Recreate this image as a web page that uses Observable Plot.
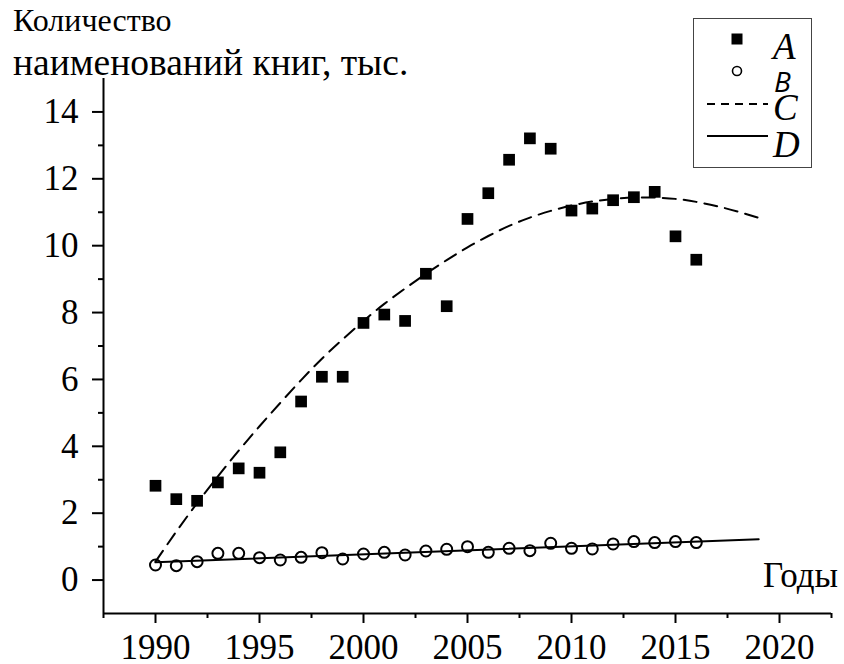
<!DOCTYPE html>
<html>
<head>
<meta charset="utf-8">
<script src="https://cdn.jsdelivr.net/npm/d3@7"></script>
<script src="https://cdn.jsdelivr.net/npm/@observablehq/plot@0.6"></script>
<style>
  html, body { margin: 0; padding: 0; background: #fff; font-family: 'Liberation Serif', serif; }
  #wrap { position: relative; width: 844px; height: 664px; overflow: hidden; }
  #wrap > svg.chart { position: absolute; left: 0; top: 0; }
  .ttl { position: absolute; left: 13px; line-height: 1; white-space: nowrap; color: #000; }
  .xlab { position: absolute; right: 6px; top: 558px; font-size: 35px; line-height: 1; color: #000; }
  #legend { position: absolute; left: 693px; top: 18px; }
</style>
</head>
<body>
<div id="wrap">
  <div class="ttl" style="top:4px; font-size:32px; font-family: 'Liberation Serif', serif">Количество</div>
  <div class="ttl" style="top:44px; font-size:37.5px; font-family: 'Liberation Serif', serif">наименований книг, тыс.</div>
  <div class="xlab" style="font-family: 'Liberation Serif', serif">Годы</div>
</div>
<script>
// Series A: number of book titles (squares)
const yearsA = [1990,1991,1992,1993,1994,1995,1996,1997,1998,1999,2000,2001,2002,2003,2004,2005,2006,2007,2008,2009,2010,2011,2012,2013,2014,2015,2016];
const valuesA = [2.82,2.42,2.37,2.92,3.34,3.21,3.82,5.34,6.08,6.08,7.69,7.94,7.75,9.16,8.19,10.8,11.57,12.57,13.21,12.9,11.05,11.11,11.36,11.45,11.61,10.28,9.58];
// Series B: circles
const yearsB = yearsA;
const valuesB = [0.45,0.43,0.55,0.80,0.80,0.67,0.60,0.68,0.82,0.63,0.78,0.83,0.75,0.87,0.92,1.00,0.83,0.95,0.88,1.10,0.95,0.93,1.08,1.15,1.12,1.15,1.12];
// Trend C (dashed curve)
const yearsC = [1990,1991,1992,1993,1994,1995,1996,1997,1998,1999,2000,2001,2002,2003,2004,2005,2006,2007,2008,2009,2010,2011,2012,2013,2014,2015,2016,2017,2018,2019];
const valuesC = [0.55,1.45,2.30,3.10,3.87,4.60,5.30,5.98,6.62,7.20,7.75,8.26,8.72,9.16,9.57,9.95,10.29,10.59,10.84,11.04,11.20,11.32,11.40,11.44,11.44,11.40,11.31,11.18,11.02,10.83];
// Trend D (solid line)
const yearsD = [1990, 2019];
const valuesD = [0.53, 1.22];
// Ticks
const xMajor = [1990,1995,2000,2005,2010,2015,2020];
const xMinor = [1987.5,1992.5,1997.5,2002.5,2007.5,2012.5,2017.5,2022.5];
const yMajor = [0,2,4,6,8,10,12,14];
const yMinor = [1,3,5,7,9,11,13];
// Legend labels
const legendLabels = ["A","B","C","D"];

const A = yearsA.map((x,i)=>({x, y: valuesA[i]}));
const B = yearsB.map((x,i)=>({x, y: valuesB[i]}));
const C = yearsC.map((x,i)=>({x, y: valuesC[i]}));
const D = yearsD.map((x,i)=>({x, y: valuesD[i]}));

const chart = Plot.plot({
  width: 844,
  height: 664,
  marginLeft: 103,
  marginRight: 13,
  marginTop: 78,
  marginBottom: 51,
  x: {domain: [1987.5, 2022.5], axis: null, label: null},
  y: {domain: [-1, 15], axis: null, label: null},
  style: "font-family: 'Liberation Serif', serif; font-size: 35px; color: #000; background: transparent; overflow: visible;",
  marks: [
    Plot.axisX(xMajor, {tickSize: 10, tickPadding: 11, strokeWidth: 2, tickFormat: d => String(d), fontSize: 35, fontFamily: "Liberation Serif", label: null}),
    Plot.axisX(xMinor, {tickSize: 5, strokeWidth: 2, tickFormat: () => "", label: null}),
    Plot.axisY(yMajor, {tickSize: 11, tickPadding: 14, strokeWidth: 2, tickFormat: d => String(d), fontSize: 35, fontFamily: "Liberation Serif", label: null}),
    Plot.axisY(yMinor, {tickSize: 5, strokeWidth: 2, tickFormat: () => "", label: null}),
    Plot.ruleX([1987.5], {stroke: "#000", strokeWidth: 2}),
    Plot.ruleY([-1], {stroke: "#000", strokeWidth: 2}),
    Plot.line(D, {x: "x", y: "y", stroke: "#000", strokeWidth: 2}),
    Plot.line(C, {x: "x", y: "y", stroke: "#000", strokeWidth: 2, strokeDasharray: "13,8", curve: "natural"}),
    Plot.dot(B, {x: "x", y: "y", r: 5.5, fill: "none", stroke: "#000", strokeWidth: 2}),
    Plot.dot(A, {x: "x", y: "y", symbol: "square", r: 6.6, fill: "#000", stroke: "none"})
  ]
});
chart.classList.add("chart");
const wrap = document.getElementById("wrap");
wrap.insertBefore(chart, wrap.firstChild);

// Legend
const lg = d3.select("#wrap").append("svg").attr("id", "legend").attr("width", 120).attr("height", 152);
lg.append("rect").attr("x", 0.5).attr("y", 0.5).attr("width", 118).attr("height", 149).attr("fill", "#fff").attr("stroke", "#444").attr("stroke-width", 1);
lg.append("rect").attr("x", 38.5).attr("y", 15.5).attr("width", 11).attr("height", 11).attr("fill", "#000");
lg.append("circle").attr("cx", 44).attr("cy", 53).attr("r", 4.5).attr("fill", "none").attr("stroke", "#000").attr("stroke-width", 1.6);
lg.append("line").attr("x1", 14).attr("x2", 75).attr("y1", 86).attr("y2", 86).attr("stroke", "#000").attr("stroke-width", 2).attr("stroke-dasharray", "8,6");
lg.append("line").attr("x1", 14).attr("x2", 75).attr("y1", 118).attr("y2", 118).attr("stroke", "#000").attr("stroke-width", 2);
const ly = [41, 74, 102, 139];
legendLabels.forEach((t, i) => {
  lg.append("text").attr("x", i === 1 ? 81 : 80).attr("y", ly[i]).text(t)
    .attr("font-family", i === 1 ? "Open Sans" : "Liberation Serif")
    .attr("font-style", "italic")
    .attr("font-size", i === 1 ? 28 : 37)
    .attr("fill", "#000");
});
</script>
</body>
</html>
